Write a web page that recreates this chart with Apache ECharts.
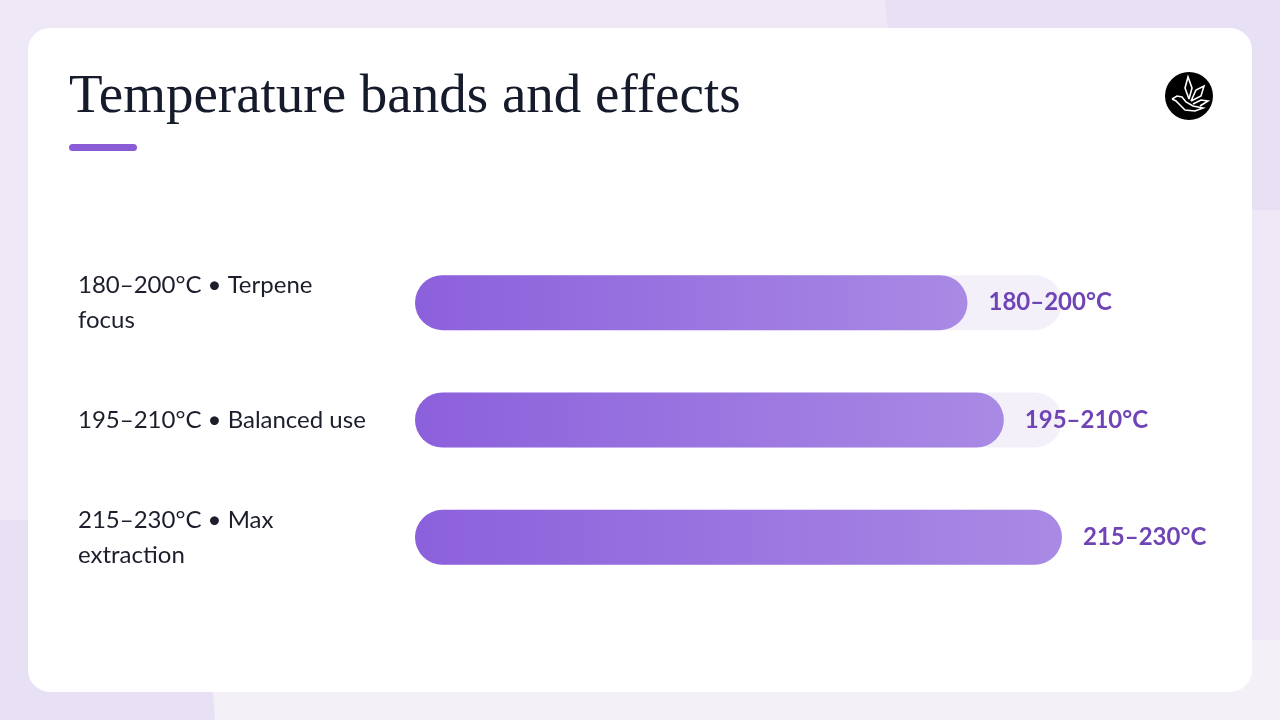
<!DOCTYPE html>
<html>
<head>
<meta charset="utf-8">
<script src="https://cdn.jsdelivr.net/npm/echarts@6/dist/echarts.min.js"></script>
<style>
html,body{margin:0;padding:0;background:#efe9f7;}
#chart{width:1280px;height:720px;}
</style>
</head>
<body>
<div id="chart"></div>
<script>
// Data
var categories = ['180–200°C • Terpene focus', '195–210°C • Balanced use', '215–230°C • Max extraction'];
var rangeLabels = ['180–200°C', '195–210°C', '215–230°C'];
var midpoints = [190, 202.5, 222.5];
var axisMax = 222.5;

var LABEL_FONT = '24px Lato';
var LABEL_MAX_W = 291;
var measureCtx = document.createElement('canvas').getContext('2d');
function wrapLabel(text) {
  measureCtx.font = LABEL_FONT;
  var words = text.split(' ');
  var lines = [];
  var cur = '';
  words.forEach(function (w) {
    var test = cur ? cur + ' ' + w : w;
    if (cur && measureCtx.measureText(test).width > LABEL_MAX_W) {
      lines.push(cur);
      cur = w;
    } else {
      cur = test;
    }
  });
  if (cur) lines.push(cur);
  return lines.join('\n');
}

var chart = echarts.init(document.getElementById('chart'));

var barGradient = new echarts.graphic.LinearGradient(0, 0, 1, 0, [
  {offset: 0, color: '#8c60dc'},
  {offset: 1, color: '#a98ae4'}
]);

var option = {
  backgroundColor: '#efe9f7',
  animation: false,
  grid: {left: 415, right: 218, top: 244, bottom: 124, containLabel: false},
  xAxis: {
    type: 'value', min: 0, max: axisMax,
    show: false
  },
  yAxis: {
    type: 'category',
    data: categories,
    inverse: true,
    axisLine: {show: false},
    axisTick: {show: false},
    splitLine: {show: false},
    axisLabel: {
      align: 'left',
      margin: 337,
      lineHeight: 35,
      padding: [4, 0, 0, 0],
      fontSize: 24,
      fontFamily: 'Lato',
      color: '#1c1f2b',
      formatter: function (v) { return wrapLabel(v); }
    }
  },
  graphic: [
    {type: 'polygon', z: -20, silent: true, shape: {points: [[885,0],[1280,0],[1280,210],[905,210]]}, style: {fill: '#e8e0f5'}},
    {type: 'rect', z: -20, silent: true, shape: {x: 0, y: 640, width: 1280, height: 80}, style: {fill: '#f3f0f8'}},
    {type: 'polygon', z: -19, silent: true, shape: {points: [[0,520],[200,520],[215,720],[0,720]]}, style: {fill: '#e8e0f5'}},
    {type: 'rect', z: -10, silent: true, shape: {x: 28, y: 28, width: 1224, height: 664, r: 22}, style: {fill: '#ffffff'}},
    {type: 'text', z: 10, left: 69, top: 70, style: {text: 'Temperature bands and effects', fontFamily: 'Liberation Serif', fontSize: 55, fill: '#161b2b'}},
    {type: 'rect', z: 10, shape: {x: 69, y: 144, width: 68, height: 7, r: 3.5}, style: {fill: '#8a5cd6'}},
    {type: 'circle', z: 10, shape: {cx: 1189, cy: 96, r: 24}, style: {fill: '#000000'}},
    {type: 'polyline', z: 11, shape: {points: [[1189,99],[1185,88],[1188,77],[1192,88],[1189,99]]}, style: {stroke: '#fff', lineWidth: 1.6, fill: null}},
    {type: 'polyline', z: 11, shape: {points: [[1191,101],[1196,90],[1204,86],[1201,96],[1191,101]]}, style: {stroke: '#fff', lineWidth: 1.6, fill: null}},
    {type: 'polyline', z: 11, shape: {points: [[1193,104],[1201,100],[1208,101],[1200,106]]}, style: {stroke: '#fff', lineWidth: 1.6, fill: null}},
    {type: 'polyline', z: 11, shape: {points: [[1172,99],[1177,96],[1182,97],[1186,102],[1193,106],[1203,108],[1195,111],[1185,110],[1179,104],[1176,101],[1172,99]]}, style: {stroke: '#fff', lineWidth: 1.6, fill: null}}
  ],
  series: [{
    type: 'bar',
    data: midpoints,
    barWidth: 55,
    z: 5,
    showBackground: true,
    backgroundStyle: {color: '#f3f0fa', borderRadius: 27.5},
    itemStyle: {color: barGradient, borderRadius: 27.5},
    label: {
      show: true,
      position: 'right',
      distance: 21,
      fontSize: 24,
      fontWeight: 'bold',
      fontFamily: 'Lato',
      color: '#6f45b5',
      formatter: function (p) { return rangeLabels[p.dataIndex]; }
    }
  }]
};
chart.setOption(option);
</script>
</body>
</html>
